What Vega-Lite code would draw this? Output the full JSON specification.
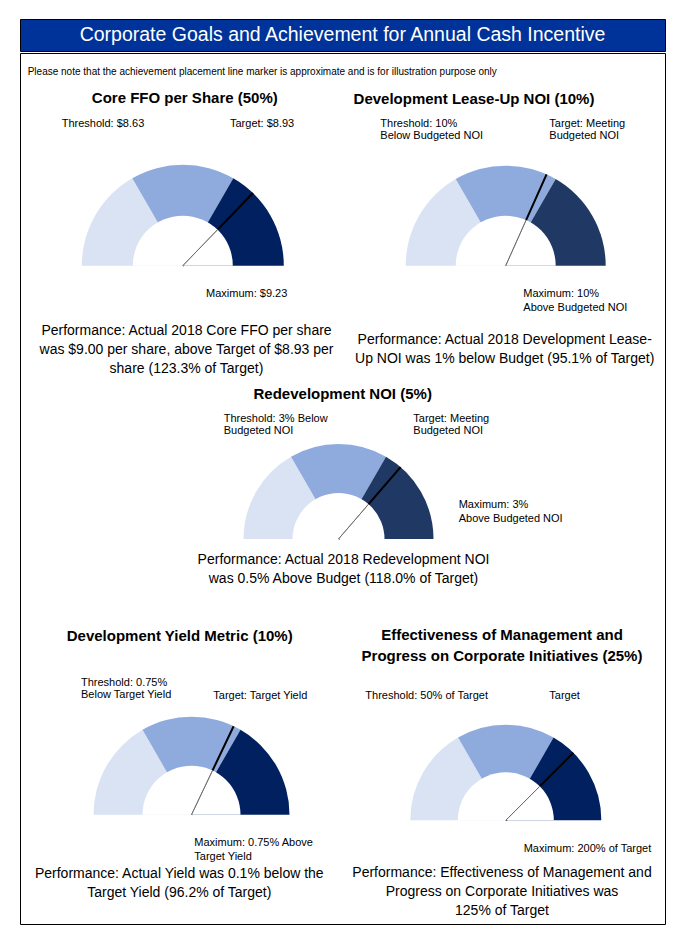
{
  "$schema": "https://vega.github.io/schema/vega-lite/v6.json",
  "padding": {"left": 19, "top": 18, "right": 23, "bottom": 10},
  "spacing": 0,
  "config": {"font": "Liberation Sans", "view": {"stroke": "black", "strokeWidth": 1}},
  "datasets": {
    "banner": [{"heading": "Corporate Goals and Achievement for Annual Cash Incentive"}],
    "segments": [
      {"gauge": 1, "band": "Below threshold", "from": 0, "to": 50},
      {"gauge": 1, "band": "Threshold to target", "from": 50, "to": 100},
      {"gauge": 1, "band": "Target to maximum", "from": 100, "to": 200},
      {"gauge": 2, "band": "Below threshold", "from": 0, "to": 50},
      {"gauge": 2, "band": "Threshold to target", "from": 50, "to": 100},
      {"gauge": 2, "band": "Target to maximum", "from": 100, "to": 200},
      {"gauge": 3, "band": "Below threshold", "from": 0, "to": 50},
      {"gauge": 3, "band": "Threshold to target", "from": 50, "to": 100},
      {"gauge": 3, "band": "Target to maximum", "from": 100, "to": 200},
      {"gauge": 4, "band": "Below threshold", "from": 0, "to": 50},
      {"gauge": 4, "band": "Threshold to target", "from": 50, "to": 100},
      {"gauge": 4, "band": "Target to maximum", "from": 100, "to": 200},
      {"gauge": 5, "band": "Below threshold", "from": 0, "to": 50},
      {"gauge": 5, "band": "Threshold to target", "from": 50, "to": 100},
      {"gauge": 5, "band": "Target to maximum", "from": 100, "to": 200}
    ],
    "gauges": [
      {"gauge": 1, "metric": "Core FFO per Share (50%)", "threshold": "Threshold: $8.63", "target": "Target: $8.93", "maximum": "Maximum: $9.23", "performance": "Performance: Actual 2018 Core FFO per share\nwas $9.00 per share, above Target of $8.93 per\nshare (123.3% of Target)", "pct_of_target": 123.3},
      {"gauge": 2, "metric": "Development Lease-Up NOI (10%)", "threshold": "Threshold: 10%\nBelow Budgeted NOI", "target": "Target: Meeting\nBudgeted NOI", "maximum": "Maximum: 10%\nAbove Budgeted NOI", "performance": "Performance: Actual 2018 Development Lease-\nUp NOI was 1% below Budget (95.1% of Target)", "pct_of_target": 95.1},
      {"gauge": 3, "metric": "Redevelopment NOI (5%)", "threshold": "Threshold: 3% Below\nBudgeted NOI", "target": "Target: Meeting\nBudgeted NOI", "maximum": "Maximum: 3%\nAbove Budgeted NOI", "performance": "Performance: Actual 2018 Redevelopment NOI\nwas 0.5% Above Budget (118.0% of Target)", "pct_of_target": 118.0},
      {"gauge": 4, "metric": "Development Yield Metric (10%)", "threshold": "Threshold: 0.75%\nBelow Target Yield", "target": "Target: Target Yield", "maximum": "Maximum: 0.75% Above\nTarget Yield", "performance": "Performance: Actual Yield was 0.1% below the\nTarget Yield (96.2% of Target)", "pct_of_target": 96.2},
      {"gauge": 5, "metric": "Effectiveness of Management and\nProgress on Corporate Initiatives (25%)", "threshold": "Threshold: 50% of Target", "target": "Target", "maximum": "Maximum:  200% of Target", "performance": "Performance: Effectiveness of Management and\nProgress on Corporate Initiatives  was\n125% of Target", "pct_of_target": 125}
    ]
  },
  "vconcat": [
    {
      "width": 645,
      "height": 32,
      "view": {"fill": "#003399", "stroke": "black"},
      "data": {"name": "banner"},
      "mark": {"type": "text", "color": "white", "fontSize": 19.5, "baseline": "middle", "align": "center"},
      "encoding": {"text": {"field": "heading", "type": "nominal"}}
    },
    {
      "width": 645,
      "height": 871,
      "title": {"text": "Please note that the achievement placement line marker is approximate and is for illustration purpose only", "anchor": "start", "orient": "top", "fontSize": 10, "fontWeight": "normal", "color": "black", "baseline": "bottom", "offset": -33.7, "dx": 7.7},
      "resolve": {"scale": {"x": "independent", "y": "independent", "radius": "independent"}},
      "layer": [
        {
          "data": {"name": "segments"},
          "mark": {"type": "arc"},
          "encoding": {
            "x": {"field": "gauge", "type": "quantitative", "axis": null, "scale": {"domain": [1, 2, 3, 4, 5], "range": [162.8, 485.7, 318.5, 171.5, 485.8], "nice": false, "zero": false}},
            "y": {"field": "gauge", "type": "quantitative", "axis": null, "scale": {"domain": [1, 2, 3, 4, 5], "range": [212.7, 212.7, 486, 761.7, 767.3], "nice": false, "zero": false}},
            "theta": {"field": "from", "type": "quantitative", "stack": null, "scale": {"domain": [0, 50, 100, 200], "range": [-1.5708, -0.5236, 0.5236, 1.5708], "nice": false, "zero": false}},
            "theta2": {"field": "to"},
            "radius": {"field": "gauge", "type": "quantitative", "stack": null, "scale": {"type": "linear", "domain": [0, 1, 2, 3, 4, 5], "range": [0, 101, 100, 95, 98, 95.5], "nice": false, "zero": false}},
            "color": {
              "condition": {"test": "datum.band === 'Target to maximum' && (datum.gauge === 2 || datum.gauge === 3)", "value": "#1F3864"},
              "field": "band", "type": "nominal", "legend": null,
              "scale": {"domain": ["Below threshold", "Threshold to target", "Target to maximum"], "range": ["#DAE3F3", "#8FAADC", "#002060"]}
            }
          }
        },
        {
          "data": {"name": "gauges"},
          "mark": {"type": "arc", "stroke": "black", "strokeWidth": 2, "fill": "black"},
          "encoding": {
            "x": {"field": "gauge", "type": "quantitative", "axis": null, "scale": {"domain": [1, 2, 3, 4, 5], "range": [162.8, 485.7, 318.5, 171.5, 485.8], "nice": false, "zero": false}},
            "y": {"field": "gauge", "type": "quantitative", "axis": null, "scale": {"domain": [1, 2, 3, 4, 5], "range": [212.7, 212.7, 486, 761.7, 767.3], "nice": false, "zero": false}},
            "theta": {"field": "pct_of_target", "type": "quantitative", "stack": null},
            "theta2": {"field": "pct_of_target"},
            "radius": {"field": "gauge", "type": "quantitative", "stack": null, "scale": {"type": "linear", "domain": [0, 1, 2, 3, 4, 5], "range": [0, 101, 100, 95, 98, 95.5], "nice": false, "zero": false}}
          }
        },
        {
          "data": {"name": "gauges"},
          "mark": {"type": "arc", "color": "white"},
          "encoding": {
            "x": {"field": "gauge", "type": "quantitative", "axis": null, "scale": {"domain": [1, 2, 3, 4, 5], "range": [162.8, 485.7, 318.5, 171.5, 485.8], "nice": false, "zero": false}},
            "y": {"field": "gauge", "type": "quantitative", "axis": null, "scale": {"domain": [1, 2, 3, 4, 5], "range": [212.7, 212.7, 486, 761.7, 767.3], "nice": false, "zero": false}},
            "theta": {"datum": 0, "type": "quantitative", "stack": null},
            "theta2": {"datum": 200},
            "radius": {"field": "gauge", "type": "quantitative", "stack": null, "scale": {"type": "linear", "domain": [0, 1, 2, 3, 4, 5], "range": [0, 50, 50, 46, 49, 48], "nice": false, "zero": false}}
          }
        },
        {
          "data": {"name": "gauges"},
          "mark": {"type": "arc", "stroke": "#666666", "strokeWidth": 0.8, "fill": "#666666"},
          "encoding": {
            "x": {"field": "gauge", "type": "quantitative", "axis": null, "scale": {"domain": [1, 2, 3, 4, 5], "range": [162.8, 485.7, 318.5, 171.5, 485.8], "nice": false, "zero": false}},
            "y": {"field": "gauge", "type": "quantitative", "axis": null, "scale": {"domain": [1, 2, 3, 4, 5], "range": [212.7, 212.7, 486, 761.7, 767.3], "nice": false, "zero": false}},
            "theta": {"field": "pct_of_target", "type": "quantitative", "stack": null},
            "theta2": {"field": "pct_of_target"},
            "radius": {"field": "gauge", "type": "quantitative", "stack": null, "scale": {"type": "linear", "domain": [0, 1, 2, 3, 4, 5], "range": [0, 50, 50, 46, 49, 48], "nice": false, "zero": false}}
          }
        },
        {
          "data": {"name": "gauges"},
          "mark": {"type": "text", "fontSize": 15, "fontWeight": "bold", "align": "center", "baseline": "top", "lineHeight": 21, "lineBreak": "\n", "color": "black"},
          "encoding": {
            "x": {"field": "gauge", "type": "quantitative", "axis": null, "scale": {"domain": [1, 2, 3, 4, 5], "range": [164.8, 454, 322.7, 159.7, 482], "nice": false, "zero": false}},
            "y": {"field": "gauge", "type": "quantitative", "axis": null, "scale": {"domain": [1, 2, 3, 4, 5], "range": [37.8, 38.8, 333.5, 575.5, 574.5], "nice": false, "zero": false}},
            "text": {"field": "metric", "type": "nominal"}
          }
        },
        {
          "data": {"name": "gauges"},
          "mark": {"type": "text", "fontSize": 11, "align": "left", "baseline": "top", "lineHeight": 12, "lineBreak": "\n", "color": "black"},
          "encoding": {
            "x": {"field": "gauge", "type": "quantitative", "axis": null, "scale": {"domain": [1, 2, 3, 4, 5], "range": [41.7, 360.3, 203.7, 61, 345.3], "nice": false, "zero": false}},
            "y": {"field": "gauge", "type": "quantitative", "axis": null, "scale": {"domain": [1, 2, 3, 4, 5], "range": [65.3, 64.5, 360.0, 624.0, 637.0], "nice": false, "zero": false}},
            "text": {"field": "threshold", "type": "nominal"}
          }
        },
        {
          "data": {"name": "gauges"},
          "mark": {"type": "text", "fontSize": 11, "align": "left", "baseline": "top", "lineHeight": 12, "lineBreak": "\n", "color": "black"},
          "encoding": {
            "x": {"field": "gauge", "type": "quantitative", "axis": null, "scale": {"domain": [1, 2, 3, 4, 5], "range": [210, 529.3, 393.3, 193.3, 529.3], "nice": false, "zero": false}},
            "y": {"field": "gauge", "type": "quantitative", "axis": null, "scale": {"domain": [1, 2, 3, 4, 5], "range": [65.3, 64.5, 360.0, 637.0, 637.0], "nice": false, "zero": false}},
            "text": {"field": "target", "type": "nominal"}
          }
        },
        {
          "data": {"name": "gauges"},
          "mark": {"type": "text", "fontSize": 11, "align": "left", "baseline": "top", "lineHeight": 14, "lineBreak": "\n", "color": "black"},
          "encoding": {
            "x": {"field": "gauge", "type": "quantitative", "axis": null, "scale": {"domain": [1, 2, 3, 4, 5], "range": [186, 503.3, 438.7, 174.3, 503.7], "nice": false, "zero": false}},
            "y": {"field": "gauge", "type": "quantitative", "axis": null, "scale": {"domain": [1, 2, 3, 4, 5], "range": [235.1, 235.0, 445.6, 784.0, 790.1], "nice": false, "zero": false}},
            "text": {"field": "maximum", "type": "nominal"}
          }
        },
        {
          "data": {"name": "gauges"},
          "mark": {"type": "text", "fontSize": 14, "align": "center", "baseline": "top", "lineHeight": 19, "lineBreak": "\n", "color": "black"},
          "encoding": {
            "x": {"field": "gauge", "type": "quantitative", "axis": null, "scale": {"domain": [1, 2, 3, 4, 5], "range": [166.5, 484.7, 323.5, 159.3, 482], "nice": false, "zero": false}},
            "y": {"field": "gauge", "type": "quantitative", "axis": null, "scale": {"domain": [1, 2, 3, 4, 5], "range": [271.3, 280.3, 499.8, 814.3, 813.2], "nice": false, "zero": false}},
            "text": {"field": "performance", "type": "nominal"}
          }
        }
      ]
    }
  ]
}
